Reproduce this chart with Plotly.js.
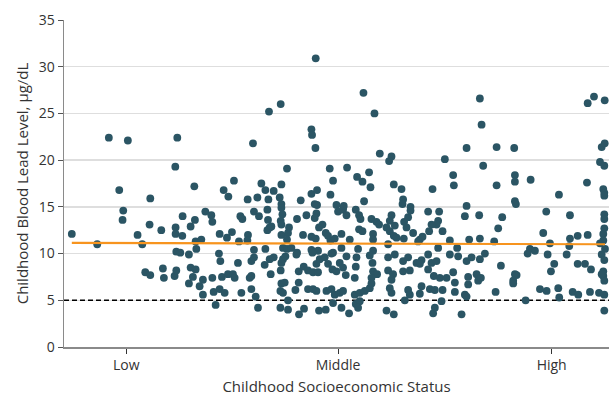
<!DOCTYPE html>
<html><head><meta charset="utf-8">
<script src="https://cdn.plot.ly/plotly-3.0.1.min.js"></script>
<style>html,body{margin:0;padding:0;background:#fff}#chart{width:609px;height:398px}</style>
</head><body><div id="chart"></div>
<script>
// SES score (arbitrary index units) and childhood blood lead level (µg/dL)
const sesScore = [
14.46,19.54,21.86,25.66,35.54,23.94,24.74,24.6,27.6,28.54,30.14,30.0,32.34,35.14,38.94,36.6,35.2,35.2,36.54,38.2,39.06,39.2,40.34,39.34,35.34,36.14,37.86,41.14,29.14,30.14,32.66,32.86,35.0,35.34,38.2,39.2,38.66,37.86,40.0,40.66,40.66,
63.2,56.2,53.86,62.34,62.46,50.66,63.14,
57.46,66.0,66.66,46.86,44.8,45.74,52.34,53.14,54.8,56.34,51.54,49.6,53.74,56.0,56.34,60.2,62.34,63.46,66.14,63.0,63.46,67.34,67.66,68.66,42.34,42.54,48.14,48.54,50.86,51.86,53.54,56.34,56.54,56.2,53.66,59.46,61.34,63.34,63.0,54.0,53.54,54.34,56.34,57.86,63.86,64.54,44.0,45.46,46.46,49.66,49.54,47.86,56.34,57.66,57.46,60.66,62.34,63.2,65.2,65.66,66.14,67.0,68.34,56.66,57.46,59.46,50.86,53.14,43.86,62.34,63.66,66.66,68.34,58.34,
44.14,47.66,50.34,50.86,53.0,54.0,54.8,54.2,56.34,56.66,56.2,57.14,59.34,59.8,60.8,61.66,62.66,63.66,63.34,64.0,62.54,65.0,65.66,66.34,66.54,67.34,68.0,42.54,44.46,45.66,46.66,47.0,50.0,50.34,42.8,44.0,45.0,48.34,50.34,51.2,56.34,57.0,56.14,56.66,59.14,59.8,61.66,62.66,63.34,65.34,66.34,67.0,68.0,68.66,57.66,43.2,51.66,56.14,57.66,59.86,60.86,63.86,65.2,66.66,
72.74,74.94,96.0,96.34,93.34,76.0,78.34,
99.34,102.86,117.54,118.8,120.94,120.34,120.94,
77.86,89.0,69.46,71.46,72.54,73.86,74.14,78.8,80.34,80.66,80.54,82.14,86.54,90.66,90.8,96.66,93.34,93.0,95.86,72.86,68.8,69.34,71.2,71.86,72.14,74.34,75.34,75.86,78.34,78.0,77.34,79.0,78.0,78.8,80.86,81.66,82.14,81.34,82.66,85.66,87.86,87.66,87.34,86.34,85.86,88.54,71.86,72.54,70.0,74.66,74.66,77.66,79.34,80.8,84.0,84.54,83.66,90.0,93.86,96.0,91.46,87.66,71.66,74.66,
69.34,71.34,74.0,74.54,77.66,79.0,80.66,81.66,83.34,84.34,85.66,86.34,87.34,90.0,91.66,93.34,94.34,96.0,68.66,71.2,69.2,71.0,74.66,75.46,74.34,77.66,78.66,78.34,80.66,82.0,84.0,85.66,86.8,88.0,89.34,90.66,93.66,95.34,93.66,95.66,91.0,71.0,72.0,73.0,74.0,74.34,78.0,78.34,81.66,82.0,84.0,84.34,86.0,87.0,88.54,91.0,93.0,93.34,68.34,71.2,72.0,71.66,69.86,77.34,78.8,81.0,88.34,87.0,86.66,92.34,
103.0,103.0,106.14,99.34,117.4,120.0,120.86,120.66,120.86,120.86,111.8,103.0,103.2,100.46,109.26,114.0,120.86,120.86,99.66,120.86,108.66,120.66,98.86,114.0,115.54,117.54,110.0,113.86,120.0,120.66,121.0,106.0,107.0,105.54,109.54,113.34,97.0,
120.34,120.86,100.2,103.0,103.34,102.66,102.66,96.2,110.86,110.2,115.54,117.0,118.2,120.66,120.66,120.86,120.34,99.14,108.0,109.34,111.66,111.86,114.54,115.66,118.0,119.8,120.86,105.14,120.86
];
const bloodLead = [
12.1,11.0,22.4,22.1,22.4,16.8,14.6,13.6,12.0,11.0,15.9,13.1,12.5,19.3,17.2,14.0,12.8,12.1,11.9,12.9,13.6,11.3,11.5,10.5,10.2,10.1,9.9,14.5,8.0,7.7,8.4,7.4,7.6,8.2,8.5,8.3,7.5,6.8,6.5,7.2,5.6,
30.9,26.0,25.2,23.3,22.7,21.8,21.3,
19.1,19.1,17.8,17.8,16.8,16.1,17.5,16.8,16.7,17.4,16.0,15.8,15.8,16.0,15.3,15.7,16.4,16.8,16.3,15.3,15.2,15.2,14.5,14.7,14.1,13.4,14.0,13.7,14.5,14.0,14.7,14.9,14.2,13.5,13.6,13.7,14.1,14.3,13.8,12.8,12.5,12.9,13.1,12.8,12.8,13.1,12.1,11.7,12.3,12.0,11.4,11.3,12.0,12.2,11.5,12.0,11.8,11.6,12.2,11.9,11.4,11.6,12.1,10.6,10.5,10.1,10.4,10.5,10.0,10.4,10.3,10.1,10.6,10.6,
9.2,9.0,9.2,9.6,8.8,9.4,9.6,7.8,9.0,9.4,8.2,9.7,9.9,8.1,8.6,8.2,8.0,8.0,8.9,9.4,10.1,9.6,8.9,10.0,8.3,8.1,9.0,7.4,7.5,7.8,7.8,7.4,7.4,7.6,5.9,6.2,5.8,5.8,6.2,5.4,6.8,6.9,6.0,5.8,6.1,6.9,6.2,6.2,6.0,6.0,6.2,5.6,5.8,6.0,5.0,4.5,4.2,4.2,4.0,3.5,4.1,3.9,4.0,4.7,
27.2,25.0,26.6,23.8,21.3,20.7,20.4,
21.4,21.3,26.1,26.8,26.4,21.4,21.8,
19.9,20.1,19.2,18.2,17.7,18.7,17.1,17.4,16.9,15.8,15.3,15.0,16.9,18.4,17.3,19.4,15.1,14.0,14.1,15.6,15.1,14.1,14.7,14.1,13.7,13.7,13.4,13.1,14.1,13.5,12.8,13.0,12.4,11.9,13.4,13.9,14.6,12.8,12.2,14.5,14.5,13.5,13.1,13.1,12.4,12.4,12.6,12.4,11.5,12.1,11.5,11.0,11.7,11.6,11.5,11.8,11.3,11.4,11.5,11.6,10.6,10.6,10.5,10.3,
9.7,9.6,9.8,9.0,9.6,9.9,9.2,9.6,9.0,9.3,9.9,9.0,9.2,9.9,9.7,9.2,9.6,9.4,8.5,8.6,7.7,7.4,8.1,7.8,7.4,8.2,7.8,7.2,8.1,8.2,8.9,8.3,7.6,7.4,7.4,8.0,7.5,7.8,6.7,7.1,6.9,5.6,5.8,6.0,6.3,6.8,6.3,5.8,6.1,5.6,5.7,6.5,6.2,6.1,6.1,5.9,5.6,5.4,4.2,4.6,4.9,4.2,3.6,3.9,3.5,5.0,4.9,4.2,3.6,3.5,
18.4,17.7,17.9,17.3,17.6,19.8,19.4,16.9,16.5,16.2,16.3,15.6,15.3,13.9,14.5,14.1,14.2,13.7,12.7,12.7,12.2,12.1,11.3,11.6,11.9,12.0,11.1,10.8,11.1,11.4,10.5,10.5,10.3,10.0,9.9,9.9,10.0,
9.9,9.3,8.7,7.8,7.7,7.1,6.8,7.4,8.9,8.1,8.9,8.9,8.3,8.1,7.6,7.1,7.8,5.9,6.2,6.0,6.3,5.3,5.9,5.6,5.9,5.8,5.6,5.0,3.9
];
// Fitted trend line endpoints
const fitSes = [14.46, 121.0];
const fitLead = [11.15, 11.0];
// SES axis extent and reference threshold (µg/dL)
const sesRange = [12.9, 121.8];
const thresholdLead = [5, 5];
// Axis tick labels
const sesTickVals = [25.34, 67.66, 110.34];
const sesTickText = ['Low', 'Middle', 'High'];
const leadTicks = [0, 5, 10, 15, 20, 25, 30, 35];

const font = "'Open Sans', 'Noto Sans', sans-serif";
const traces = [
  {x: sesRange, y: thresholdLead, type: 'scatter', mode: 'lines',
   line: {color: '#000', width: 1.6, dash: '5px,3px'}, hoverinfo: 'skip', cliponaxis: false},
  {x: sesScore, y: bloodLead, type: 'scatter', mode: 'markers',
   marker: {color: '#2b5564', size: 7.8, line: {width: 0}}, cliponaxis: false, hoverinfo: 'x+y'},
  {x: fitSes, y: fitLead, type: 'scatter', mode: 'lines',
   line: {color: '#f7941e', width: 2.2}, hoverinfo: 'skip'}
];
const layout = {
  width: 609, height: 398,
  margin: {l: 64, r: 0, t: 20, b: 51},
  paper_bgcolor: '#fff', plot_bgcolor: '#fff',
  showlegend: false,
  font: {family: font, size: 14, color: '#333'},
  xaxis: {range: sesRange, tickvals: sesTickVals, ticktext: sesTickText,
    showgrid: false, zeroline: false, showline: true, linecolor: '#8a8a8a', linewidth: 1.5,
    ticks: 'outside', ticklen: 5, tickcolor: '#333', tickwidth: 1,
    tickfont: {size: 14, color: '#333'},
    title: {text: 'Childhood Socioeconomic Status', font: {size: 15, color: '#333'}, standoff: 8}},
  yaxis: {range: [0, 35], tickvals: leadTicks,
    showgrid: true, gridcolor: '#dedede', gridwidth: 1.3, zeroline: false,
    showline: true, linecolor: '#8a8a8a', linewidth: 1.5,
    ticks: 'outside', ticklen: 5, tickcolor: '#555', tickwidth: 1,
    tickfont: {size: 14, color: '#333'},
    title: {text: 'Childhood Blood Lead Level, μg/dL', font: {size: 15, color: '#333'}, standoff: 6}}
};
Plotly.newPlot('chart', traces, layout, {displayModeBar: false, staticPlot: true});
</script></body></html>
